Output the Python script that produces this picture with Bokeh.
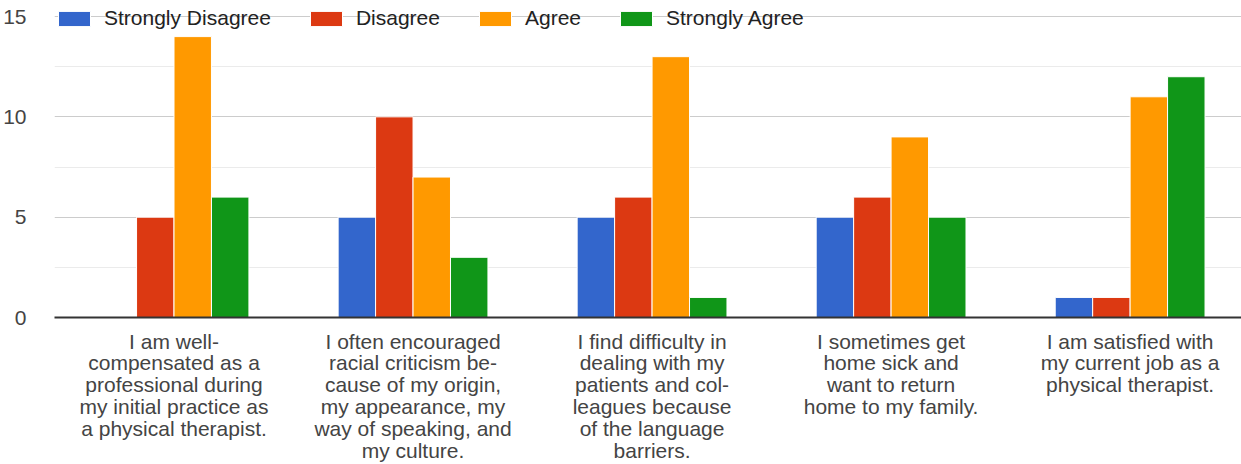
from bokeh.plotting import figure
from bokeh.models import ColumnDataSource, Range1d, FixedTicker, Legend
from bokeh.transform import dodge
from bokeh.embed import file_html
from bokeh.resources import INLINE

categories = [
    "I am well-\ncompensated as a\nprofessional during\nmy initial practice as\na physical therapist.",
    "I often encouraged\nracial criticism be-\ncause of my origin,\nmy appearance, my\nway of speaking, and\nmy culture.",
    "I find difficulty in\ndealing with my\npatients and col-\nleagues because\nof the language\nbarriers.",
    "I sometimes get\nhome sick and\nwant to return\nhome to my family.",
    "I am satisfied with\nmy current job as a\nphysical therapist.",
]
series_names = ["Strongly Disagree", "Disagree", "Agree", "Strongly Agree"]
strongly_disagree = [0, 5, 5, 5, 1]
disagree = [5, 10, 6, 6, 1]
agree = [14, 7, 13, 9, 11]
strongly_agree = [6, 3, 1, 5, 12]
y_ticks = [0, 5, 10, 15]

colors = ["#3366cc", "#dc3912", "#ff9900", "#109618"]
FONT = "Liberation Sans"

idx = list(range(len(categories)))
source = ColumnDataSource(data=dict(
    x=idx, sd=strongly_disagree, d=disagree, a=agree, sa=strongly_agree))

p = figure(width=1241, height=464, output_backend="svg", toolbar_location=None,
           x_range=Range1d(-0.5, 4.466), y_range=Range1d(0, 15.5),
           min_border_left=53, min_border_right=0, min_border_top=6,
           min_border_bottom=145)
p.outline_line_color = None
p.background_fill_color = "white"

step = 0.1567
keys = ["sd", "d", "a", "sa"]
renderers = []
for i, (k, name, c) in enumerate(zip(keys, series_names, colors)):
    off = (i - 1.5) * step
    r = p.vbar(x=dodge("x", off, range=p.x_range), top=k, width=step, bottom=0,
               source=source, fill_color=c, line_color="white", line_width=1)
    renderers.append((name, [r]))

# axes
p.xaxis.ticker = FixedTicker(ticks=idx)
p.xaxis.major_label_overrides = {i: categories[i] for i in idx}
p.xaxis.major_tick_line_color = None
p.xaxis.minor_tick_line_color = None
p.xaxis.axis_line_color = "#333333"
p.xaxis.axis_line_width = 2
p.xaxis.major_label_text_font = FONT
p.xaxis.major_label_text_font_size = "21px"
p.xaxis.major_label_text_color = "#444444"
p.xaxis.major_label_text_line_height = 0.95
p.xaxis.major_label_standoff = 6

p.yaxis.ticker = FixedTicker(ticks=y_ticks, minor_ticks=[2.5, 7.5, 12.5])
p.yaxis.axis_line_color = None
p.yaxis.major_tick_line_color = None
p.yaxis.minor_tick_line_color = None
p.yaxis.major_label_text_font = FONT
p.yaxis.major_label_text_font_size = "21px"
p.yaxis.major_label_text_color = "#444444"
p.yaxis.major_label_standoff = 22

p.xgrid.grid_line_color = None
p.ygrid.grid_line_color = "#cccccc"
p.ygrid.grid_line_width = 1
p.ygrid.minor_grid_line_color = "#ebebeb"

legend = Legend(items=renderers, orientation="horizontal", location="top_left",
                margin=0, padding=0, spacing=35, glyph_width=40, glyph_height=19,
                label_standoff=10, label_height=21,
                label_text_font=FONT, label_text_font_size="21px",
                label_text_color="#222222",
                background_fill_alpha=0, border_line_alpha=0)
p.add_layout(legend)

open("out.html", "w").write(file_html(p, INLINE))
